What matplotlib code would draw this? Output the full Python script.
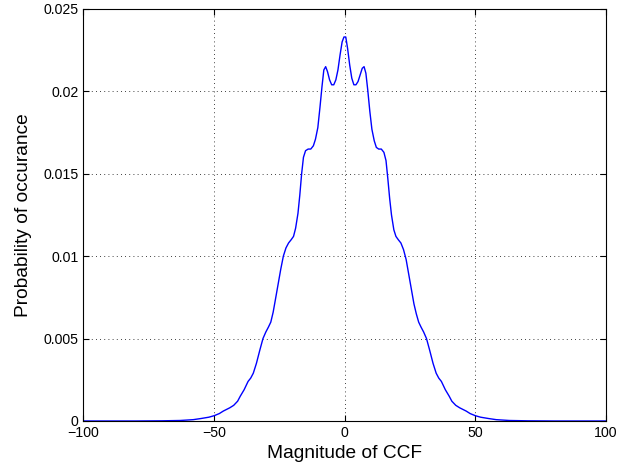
import matplotlib
matplotlib.use("Agg")
import matplotlib.pyplot as plt

plt.rcParams['font.family'] = ['Liberation Sans', 'DejaVu Sans']

# Magnitude of CCF (x) and probability of occurance (y)
magnitude = [-100, -80, -70, -63, -58, -55, -52, -50, -48, -46.5, -44, -42.5, -41, -40, -38.5,
             -37, -36, -35, -33.8, -32.5, -31.3, -30.2, -29.2, -28.3, -27.4, -26.5, -25.5,
             -24.5, -23.5, -22.5, -21.5, -20.5, -19.6, -18.8, -17.9, -17.2, -16.5, -15.8,
             -15.0, -14.0, -13.0, -12.0, -11.2, -10.3, -9.5, -8.7, -8.0, -7.3, -6.6, -5.8,
             -5.0, -4.2, -3.4, -2.6, -1.8, -1.0, -0.3, 0.4, 1.1, 1.9, 2.7, 3.5, 4.3, 5.1,
             5.9, 6.7, 7.4, 8.1, 8.8, 9.6, 10.4, 11.3, 12.1, 13.0, 14.0, 15.0, 15.8, 16.5,
             17.2, 17.9, 18.8, 19.6, 20.5, 21.5, 22.5, 23.5, 24.5, 25.5, 26.5, 27.4, 28.3,
             29.2, 30.2, 31.3, 32.5, 33.8, 35, 36, 37, 38.5, 40, 41, 42.5, 44, 46.5, 48,
             50, 52, 55, 58, 63, 70, 80, 100]
probability = [0.0, 0.0, 0.00001, 0.00003, 0.00008, 0.00015, 0.00023, 0.00032, 0.00045, 0.0006,
               0.0008, 0.00095, 0.0012, 0.0015, 0.0019, 0.0024, 0.0026, 0.0029, 0.0035, 0.0043,
               0.0050, 0.0054, 0.0057, 0.0060, 0.0066, 0.0074, 0.0083, 0.0092, 0.0100, 0.0105,
               0.0108, 0.0110, 0.0112, 0.0117, 0.0126, 0.0137, 0.0150, 0.0160, 0.0164, 0.0165,
               0.0165, 0.0167, 0.0171, 0.0178, 0.0190, 0.0203, 0.0213, 0.0215, 0.0212, 0.0207,
               0.0204, 0.0204, 0.0207, 0.0213, 0.0222, 0.0230, 0.0233, 0.0233, 0.0226, 0.0216,
               0.0208, 0.0204, 0.0204, 0.0206, 0.0210, 0.0214, 0.0215, 0.0211, 0.0201, 0.0188,
               0.0177, 0.0170, 0.0166, 0.0165, 0.0165, 0.0163, 0.0158, 0.0147, 0.0135, 0.0125,
               0.0116, 0.0112, 0.0110, 0.0108, 0.0104, 0.0098, 0.0089, 0.0080, 0.0071, 0.0065,
               0.0060, 0.0057, 0.0054, 0.0050, 0.0043, 0.0035, 0.0029, 0.0026, 0.0024, 0.0019,
               0.0015, 0.0012, 0.00095, 0.0008, 0.0006, 0.00045, 0.00032, 0.00023, 0.00015,
               0.00008, 0.00003, 0.00001, 0.0, 0.0]

xticks = [-100, -50, 0, 50, 100]
xtick_labels = ['\u2212100', '\u221250', '0', '50', '100']
yticks = [0, 0.005, 0.01, 0.015, 0.02, 0.025]
ytick_labels = ['0', '0.005', '0.01', '0.015', '0.02', '0.025']

fig = plt.figure(figsize=(6.33, 4.70), dpi=100)
ax = fig.add_axes([0.1319, 0.1043, 0.8254, 0.8766])
ax.plot(magnitude, probability, color=(0, 0, 1), lw=1.0)
ax.set_xlim(-100, 100)
ax.set_ylim(0, 0.025)
ax.set_xticks(xticks)
ax.set_xticklabels(xtick_labels)
ax.set_yticks(yticks)
ax.set_yticklabels(ytick_labels)
ax.grid(True, linestyle=(0, (1, 4)), color='black', lw=0.6)
ax.tick_params(direction='in', length=4, labelsize=10.2, top=True, right=True, width=0.8)
for s in ax.spines.values():
    s.set_linewidth(0.8)
ax.set_xlabel('Magnitude of CCF', fontsize=13.8, labelpad=4)
ax.set_ylabel('Probability of occurance', fontsize=13.8, labelpad=8)
fig.savefig('out.png', dpi=100)
